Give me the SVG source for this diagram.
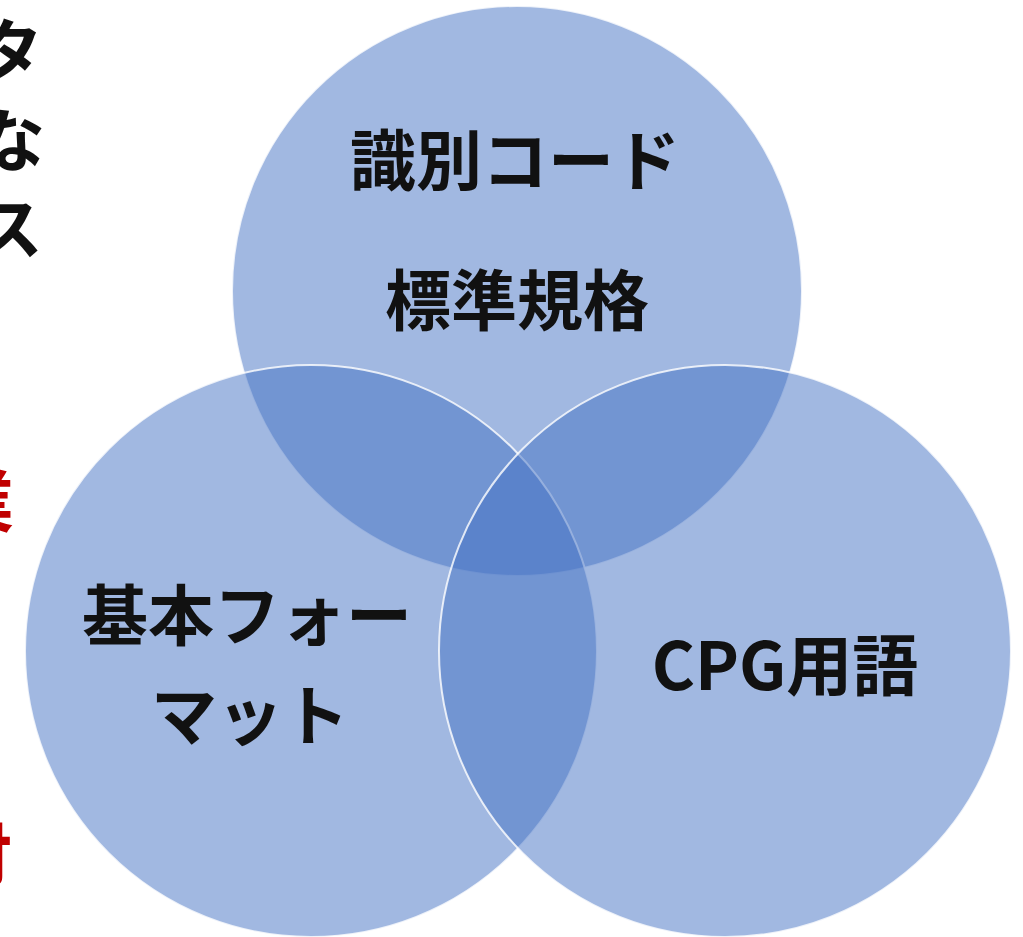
<svg xmlns="http://www.w3.org/2000/svg" width="1023" height="937" viewBox="0 0 1023 937">
<style>
.c{fill:#4472C4;fill-opacity:0.5;stroke:#ffffff;stroke-width:2;stroke-opacity:0.8}
.t{font-family:"Noto Sans CJK JP","Noto Sans",sans-serif;font-weight:bold;font-size:66px;fill:#111111;text-anchor:middle}
.e{font-family:"Noto Sans CJK JP","Noto Sans",sans-serif;font-weight:bold;font-size:68px;text-anchor:end}
</style>
<rect width="1023" height="937" fill="#ffffff"/>
<g id="edge-text">
<text class="e" x="43" y="76" fill="#111111">タ</text>
<text class="e" x="45" y="166" fill="#111111">な</text>
<text class="e" x="43" y="254" fill="#111111">ス</text>
<text class="e" x="14" y="527" fill="#C00000">業</text>
<text class="e" x="12" y="880" fill="#C00000">付</text>
</g>
<g id="circles">
<g id="top"><circle class="c" cx="517" cy="291" r="285"/></g>
<g id="left"><circle class="c" cx="311" cy="651" r="286"/></g>
<g id="right"><circle class="c" cx="725" cy="651" r="286"/></g>
</g>
<g id="labels">
<text class="t" x="515" y="185">識別コード</text>
<text class="t" x="517" y="325">標準規格</text>
<text class="t" x="247" y="640">基本フォー</text>
<text class="t" x="250" y="740">マット</text>
<text class="t" x="785" y="690">CPG用語</text>
</g>
</svg>
